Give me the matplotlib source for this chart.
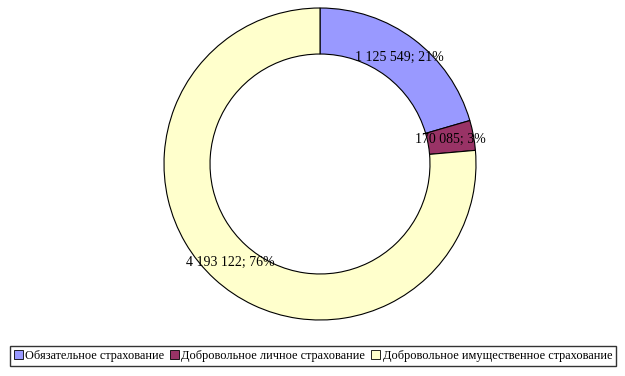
import numpy as np
import matplotlib.pyplot as plt
from matplotlib.patches import Patch

plt.rcParams['font.family'] = ['Liberation Serif', 'DejaVu Serif']

categories = ['Обязательное страхование', 'Добровольное личное страхование',
              'Добровольное имущественное страхование']
values = [1125549, 170085, 4193122]
colors = ['#9999FF', '#993366', '#FFFFCC']

total = sum(values)

fig = plt.figure(figsize=(6.25, 3.76), dpi=100)
# pie center ~ (320,164) px, outer radius ~156 px
ax = fig.add_axes([(320 - 156) / 625, (376 - 164 - 156) / 376, 312 / 625, 312 / 376])
ring = 0.295
wedges, _ = ax.pie(values, colors=colors, startangle=90, counterclock=False, radius=1,
                   wedgeprops=dict(width=ring, edgecolor='black', linewidth=0.8))
ax.set_aspect('equal')
ax.set_xlim(-1, 1)
ax.set_ylim(-1, 1)

for w, v in zip(wedges, values):
    mid = np.deg2rad((w.theta1 + w.theta2) / 2)
    r = 1 - ring / 2
    lab = f'{v:,}'.replace(',', ' ') + f'; {round(v / total * 100)}%'
    ax.text(r * np.cos(mid), r * np.sin(mid), lab, ha='center', va='center', fontsize=10)

handles = [Patch(facecolor=c, edgecolor='black', linewidth=0.6) for c in colors]
fig.legend(handles, categories, loc='center', bbox_to_anchor=(313 / 625, 1 - 356 / 376),
           ncol=3, frameon=True, fancybox=False, edgecolor='black', fontsize=8.9,
           handlelength=0.7, handleheight=0.7, handletextpad=0.2, columnspacing=0.5,
           borderpad=0.3, borderaxespad=0)

fig.savefig('out.png', dpi=100)
